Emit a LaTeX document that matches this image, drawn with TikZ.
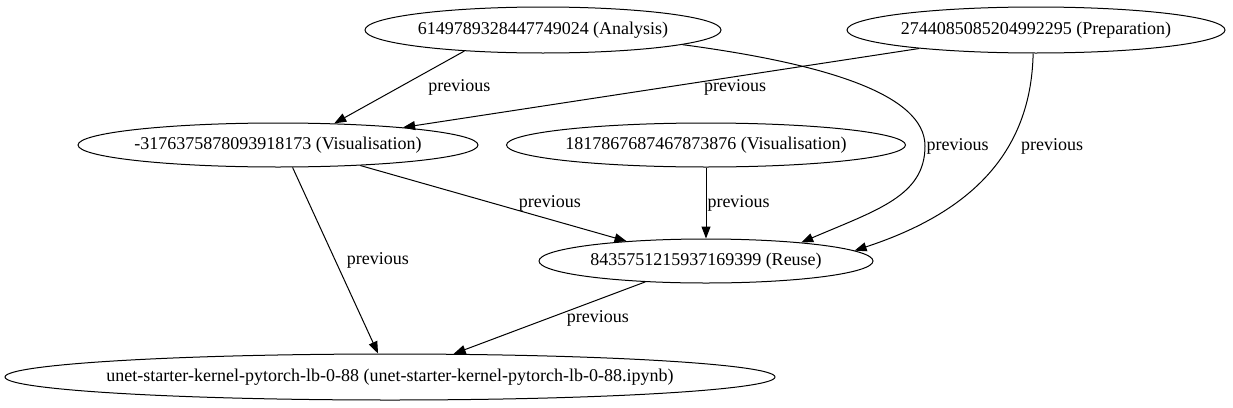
\documentclass[tikz,border=0pt]{standalone}
\usepackage{fontspec}
\setmainfont{Liberation Serif}
\usepackage{tikz}
\usetikzlibrary{shapes.geometric, arrows.meta}

\begin{document}
\begin{tikzpicture}[
    x=1pt, y=-1pt,
    font=\fontsize{18}{20}\selectfont,
    state/.style={ellipse, draw, line width=1pt, inner sep=0pt, minimum height=46pt},
    arrow/.style={-{Triangle[length=12pt, width=9pt]}, line width=1pt},
    lbl/.style={inner sep=1pt}
]
\useasboundingbox (0,0) rectangle (1233,407);

% Nodes
\node[state, minimum width=356pt] (ana) at (543,30) {\makebox[0pt]{6149789328447749024 (Analysis)}};
\node[state, minimum width=378pt] (prep) at (1036,30) {\makebox[0pt]{2744085085204992295 (Preparation)}};
\node[state, minimum width=400pt, minimum height=44pt] (vis1) at (278,145) {\makebox[0pt]{-3176375878093918173 (Visualisation)}};
\node[state, minimum width=399pt, minimum height=44pt] (vis2) at (706,145) {\makebox[0pt]{1817867687467873876 (Visualisation)}};
\node[state, minimum width=334pt, minimum height=44pt] (reuse) at (706,261) {\makebox[0pt]{8435751215937169399 (Reuse)}};
\node[state, minimum width=770pt] (nb) at (390,377) {\makebox[0pt]{unet-starter-kernel-pytorch-lb-0-88 (unet-starter-kernel-pytorch-lb-0-88.ipynb)}};

% Arrows
\draw[arrow] (ana.195) -- node[lbl, xshift=60pt] {previous} (vis1.21);
\draw[arrow] (prep.189) -- node[lbl, xshift=74pt, yshift=1pt] {previous} (vis1.8);
\draw[arrow] (ana.-6) .. controls (820,63) and (925,93) .. (925,146)
    node[lbl, right] {previous}
    .. controls (925,196) and (877,210) .. (reuse.11);
\draw[arrow] (prep.263) .. controls (1031,161) and (960,216) ..
    node[lbl, pos=0.35, xshift=45pt, yshift=2pt] {previous} (reuse.4);

\draw[arrow] (vis1.-14) -- node[lbl, xshift=56.5pt] {previous} (reuse.166);
\draw[arrow] (vis2.south) -- node[lbl, right] {previous} (reuse.north);

\draw[arrow] (vis1.-57) -- node[lbl, xshift=42.5pt] {previous} (nb.117);
\draw[arrow] (reuse.199) -- node[lbl, xshift=48.5pt, yshift=-1pt] {previous} (nb.20);

\end{tikzpicture}
\end{document}
